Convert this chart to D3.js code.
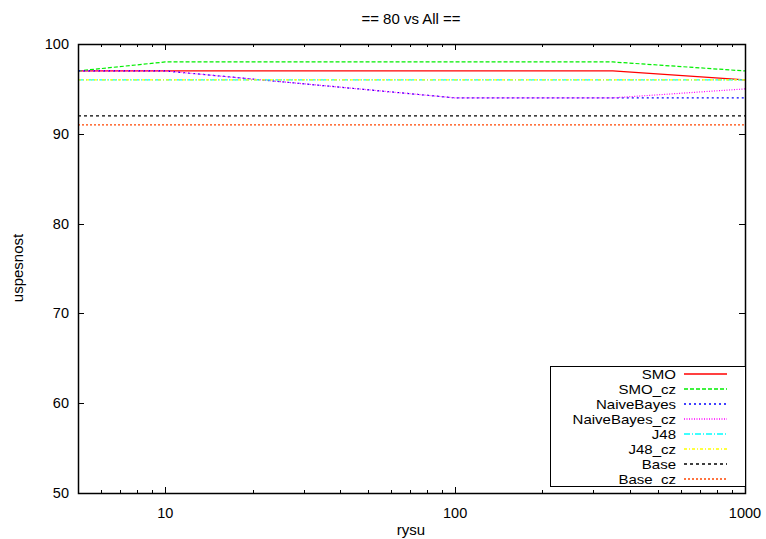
<!DOCTYPE html>
<html><head><meta charset="utf-8">
<script src="https://cdn.jsdelivr.net/npm/d3@7"></script>
<style>body{margin:0;background:#fff}svg{display:block}text{font-family:"Liberation Sans",Arial,sans-serif;fill:#000}</style>
</head><body><svg id="c" width="766" height="539"></svg>
<script>
const xValues = [5, 10, 100, 350, 1000];
const seriesNames = ["SMO","SMO_cz","NaiveBayes","NaiveBayes_cz","J48","J48_cz","Base","Base_cz"];
const smo = [97, 97, 97, 97, 96];
const smoCz = [97, 98, 98, 98, 97];
const naiveBayes = [97, 97, 94, 94, 94];
const naiveBayesCz = [97, 97, 94, 94, 95];
const j48 = [96, 96, 96, 96, 96];
const j48Cz = [96, 96, 96, 96, 96];
const base = [92, 92, 92, 92, 92];
const baseCz = [91, 91, 91, 91, 91];
const xTicks = [10, 100, 1000];
const yTicks = [50, 60, 70, 80, 90, 100];

const seriesValues = [smo, smoCz, naiveBayes, naiveBayesCz, j48, j48Cz, base, baseCz];
const colors = ["#ff0000","#00ee00","#0000ff","#ff00ff","#00ffff","#ffff00","#000000","#ff4500"];
const dashes = [null,"4,2","2,3","1,1.5","6,2,1,2","3,2,1,2","3,3","2,2"];

const L=78,R=745,T=44,B=493;
const svg=d3.select("#c");
const x=d3.scaleLog().domain([5,1000]).range([L,R]);
const y=d3.scaleLinear().domain([50,100]).range([B,T]);

const minor=[];
for(let d=1;d<=100;d*=10)for(let k=2;k<=9;k++){const v=k*d;if(v>=5&&v<1000&&v!==10&&v!==100)minor.push(v);}
const g=svg.append("g").attr("stroke","#000").attr("stroke-width",1);
minor.forEach(v=>{const px=Math.round(x(v))+0.5;
 g.append("line").attr("x1",px).attr("x2",px).attr("y1",B).attr("y2",B-3);
 g.append("line").attr("x1",px).attr("x2",px).attr("y1",T).attr("y2",T+3);});
xTicks.forEach(v=>{const px=Math.round(x(v))+0.5;
 g.append("line").attr("x1",px).attr("x2",px).attr("y1",B).attr("y2",B-6);
 g.append("line").attr("x1",px).attr("x2",px).attr("y1",T).attr("y2",T+6);
 svg.append("text").attr("x",x(v)).attr("y",518).attr("text-anchor","middle").attr("font-size",14.5).text(v);});
yTicks.forEach(v=>{const py=Math.round(y(v))+0.5;
 g.append("line").attr("x1",L).attr("x2",L+6).attr("y1",py).attr("y2",py);
 g.append("line").attr("x1",R).attr("x2",R-6).attr("y1",py).attr("y2",py);
 svg.append("text").attr("x",69).attr("y",y(v)+5).attr("text-anchor","end").attr("font-size",14.5).text(v);});

const line=d3.line().x((d,i)=>x(xValues[i])).y(d=>y(d));
seriesValues.forEach((vals,i)=>{
 svg.append("path").datum(vals).attr("d",line).attr("fill","none")
  .attr("stroke",colors[i]).attr("stroke-width",1.2).attr("stroke-dasharray",dashes[i]);
});

svg.append("rect").attr("x",L+0.5).attr("y",T+0.5).attr("width",R-L).attr("height",B-T)
 .attr("fill","none").attr("stroke","#000").attr("stroke-width",1.5);

const lg=svg.append("g");
lg.append("rect").attr("x",550.5).attr("y",366.5).attr("width",195).attr("height",120).attr("fill","#fff").attr("stroke","#000");
seriesNames.forEach((n,i)=>{const yy=374+i*15;
 const t=lg.append("text").attr("x",676).attr("y",yy+4.5).attr("text-anchor","end").attr("font-size",15).text(n);
 const w=t.node().getComputedTextLength();
 t.attr("font-size",13).attr("textLength",w).attr("lengthAdjust","spacingAndGlyphs");
 lg.append("line").attr("x1",684).attr("x2",727).attr("y1",yy).attr("y2",yy)
  .attr("stroke",colors[i]).attr("stroke-width",1.5).attr("stroke-dasharray",dashes[i]);
});

svg.append("text").attr("x",411).attr("y",24).attr("text-anchor","middle").attr("font-size",15).text("== 80 vs All ==");
svg.append("text").attr("x",411).attr("y",535).attr("text-anchor","middle").attr("font-size",15).text("rysu");
svg.append("text").attr("transform","translate(23,268) rotate(-90)").attr("text-anchor","middle").attr("font-size",15).text("uspesnost");
</script></body></html>
